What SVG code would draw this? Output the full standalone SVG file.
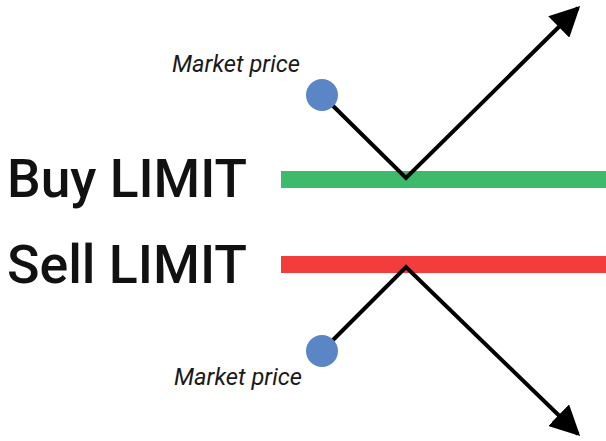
<svg xmlns="http://www.w3.org/2000/svg" width="606" height="441" viewBox="0 0 606 441">
<defs>
<style>
.big{font-family:Roboto,"Liberation Sans",sans-serif;font-size:54px;font-weight:500;fill:#111}
.mp{font-family:Roboto,"Liberation Sans",sans-serif;font-size:23px;font-style:italic;font-weight:400;fill:#1a1a1a}
.path{fill:none;stroke:#000;stroke-width:4;stroke-linejoin:miter}
.dot{fill:#5b86c5}
</style>
<marker id="arr" viewBox="0 0 10 10" refX="9" refY="5" markerWidth="7.5" markerHeight="7.5" markerUnits="strokeWidth" orient="auto">
<path d="M0,0 L10,5 L0,10 z" fill="#000"/>
</marker>
</defs>
<rect width="606" height="441" fill="#fff"/>
<g id="buy-limit">
<rect x="281" y="171" width="325" height="17" fill="#3dba6c"/>
<text class="big" x="7" y="197" textLength="240" lengthAdjust="spacingAndGlyphs">Buy LIMIT</text>
</g>
<g id="sell-limit">
<rect x="281" y="256" width="325" height="17" fill="#f33c3c"/>
<text class="big" x="7" y="283" textLength="240" lengthAdjust="spacingAndGlyphs">Sell LIMIT</text>
</g>
<g id="connectors">
<polyline class="path" points="322,95 406,178 578,8" marker-end="url(#arr)"/>
<polyline class="path" points="322,351 406,267 578,434" marker-end="url(#arr)"/>
</g>
<g id="market-top">
<circle class="dot" cx="322" cy="95" r="16"/>
<text class="mp" x="172" y="72" textLength="128" lengthAdjust="spacingAndGlyphs">Market price</text>
</g>
<g id="market-bottom">
<circle class="dot" cx="322" cy="351" r="16"/>
<text class="mp" x="174" y="385" textLength="128" lengthAdjust="spacingAndGlyphs">Market price</text>
</g>
</svg>
